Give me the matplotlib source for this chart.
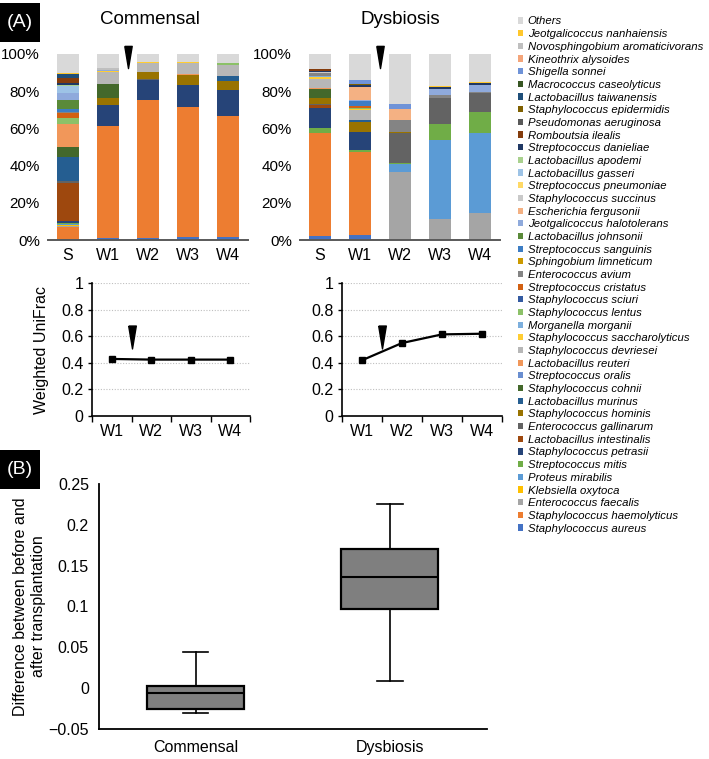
import matplotlib
matplotlib.use("Agg")
import matplotlib.pyplot as plt
import numpy as np
from matplotlib.patches import Patch, Rectangle

plt.rcParams['font.family'] = ['Liberation Sans', 'DejaVu Sans']

# ---------------- data ----------------
species = [
    "Staphylococcus aureus", "Staphylococcus haemolyticus", "Enterococcus faecalis",
    "Klebsiella oxytoca", "Proteus mirabilis", "Streptococcus mitis",
    "Staphylococcus petrasii", "Lactobacillus intestinalis", "Enterococcus gallinarum",
    "Staphylococcus hominis", "Lactobacillus murinus", "Staphylococcus cohnii",
    "Streptococcus oralis", "Lactobacillus reuteri", "Staphylococcus devriesei",
    "Staphylococcus saccharolyticus", "Morganella morganii", "Staphylococcus lentus",
    "Staphylococcus sciuri", "Streptococcus cristatus", "Enterococcus avium",
    "Sphingobium limneticum", "Streptococcus sanguinis", "Lactobacillus johnsonii",
    "Jeotgalicoccus halotolerans", "Escherichia fergusonii", "Staphylococcus succinus",
    "Streptococcus pneumoniae", "Lactobacillus gasseri", "Lactobacillus apodemi",
    "Streptococcus danieliae", "Romboutsia ilealis", "Pseudomonas aeruginosa",
    "Staphylococcus epidermidis", "Lactobacillus taiwanensis", "Macrococcus caseolyticus",
    "Shigella sonnei", "Kineothrix alysoides", "Novosphingobium aromaticivorans",
    "Jeotgalicoccus nanhaiensis", "Others",
]

species_colors = [
    "#4472C4", "#ED7D31", "#A5A5A5", "#FFC000", "#5B9BD5", "#70AD47",
    "#264478", "#9E480E", "#636363", "#997300", "#255E91", "#43682B",
    "#698ED0", "#F1975A", "#B7B7B7", "#FFCD33", "#7CAFDD", "#8CC168",
    "#335AA1", "#D26012", "#848484", "#CC9A00", "#3C7DC4", "#5A8A39",
    "#8FAADC", "#F4B183", "#C9C9C9", "#FFD966", "#9DC3E6", "#A9D18E",
    "#203864", "#843C0C", "#595959", "#7F6000", "#1F4E79", "#375623",
    "#6F93D8", "#F4A57A", "#BFBFBF", "#FFC72C", "#D9D9D9",
]

samples = ["S", "W1", "W2", "W3", "W4"]

# relative abundance (%) per sample, in the order of `species`
com_S = [0.3, 6.7, 0.5, 0.3, 1.0, 0.4, 0.8, 20.9, 0.9, 0.0,
         12.7, 5.4, 0.0, 12.6, 0.0, 0.0, 0.0, 3.0, 0.0, 2.7,
         0.5, 0.0, 1.7, 4.6, 4.0, 0.0, 0.0, 0.0, 3.6, 0.9,
         0.9, 2.7, 0.0, 0.0, 2.1, 0.0, 0.0, 0.0, 0.0, 0.5,
         10.3]
com_W1 = [1.0, 60.5, 0.0, 0.0, 0.0, 0.0, 11.0, 0.0, 0.0, 4.0,
          0.0, 7.5, 0.0, 0.0, 6.5, 0.5, 0.0, 0.0, 0.0, 0.0,
          0.0, 0.0, 0.0, 0.0, 0.5, 0.0, 0.0, 0.0, 0.0, 0.0,
          0.0, 0.0, 0.0, 0.0, 0.0, 0.0, 0.0, 0.0, 1.0, 0.0,
          7.5]
com_W2 = [1.0, 74.0, 0.0, 0.0, 0.0, 0.0, 11.2, 0.0, 0.4, 3.6,
          0.0, 0.0, 0.0, 0.0, 4.8, 0.5, 0.0, 0.0, 0.0, 0.0,
          0.0, 0.0, 0.0, 0.0, 0.0, 0.0, 0.0, 0.0, 0.0, 0.0,
          0.0, 0.0, 0.0, 0.0, 0.0, 0.0, 0.0, 0.0, 0.0, 0.0,
          4.5]
com_W3 = [1.5, 69.9, 0.0, 0.0, 0.0, 0.0, 12.1, 0.0, 0.0, 5.4,
          0.0, 0.0, 0.0, 0.6, 5.7, 0.5, 0.0, 0.0, 0.0, 0.0,
          0.0, 0.0, 0.0, 0.0, 0.0, 0.0, 0.0, 0.0, 0.0, 0.0,
          0.0, 0.0, 0.0, 0.0, 0.0, 0.0, 0.0, 0.0, 0.0, 0.0,
          4.3]
com_W4 = [1.5, 64.9, 0.0, 0.0, 0.0, 0.0, 14.0, 0.0, 0.0, 4.9,
          2.7, 0.0, 0.0, 0.4, 5.8, 0.0, 0.0, 1.2, 0.0, 0.0,
          0.0, 0.0, 0.0, 0.0, 0.0, 0.0, 0.0, 0.0, 0.0, 0.0,
          0.0, 0.0, 0.0, 0.0, 0.0, 0.0, 0.0, 0.0, 0.0, 0.0,
          4.6]

dys_S = [2.0, 55.7, 0.0, 0.0, 0.0, 2.3, 10.8, 1.8, 0.4, 3.4,
         0.0, 4.6, 0.0, 0.6, 4.8, 1.1, 0.6, 0.0, 0.0, 0.0,
         1.9, 0.0, 0.0, 0.0, 0.0, 0.0, 0.5, 0.0, 0.0, 0.0,
         0.6, 0.7, 0.0, 0.0, 0.0, 0.0, 0.0, 0.0, 0.0, 0.4,
         7.8]
dys_W1 = [2.5, 45.0, 0.0, 0.0, 0.0, 1.0, 9.7, 0.0, 0.0, 5.4,
          0.8, 0.0, 0.0, 0.0, 5.3, 0.8, 0.0, 0.5, 0.0, 1.0,
          0.0, 0.0, 2.8, 0.0, 0.5, 7.0, 0.0, 0.0, 0.0, 0.0,
          0.8, 0.0, 0.0, 0.7, 0.0, 0.0, 2.4, 0.0, 0.0, 0.0,
          13.8]
dys_W2 = [0.0, 0.0, 36.3, 0.0, 4.4, 0.9, 0.0, 0.0, 15.8, 0.5,
          0.0, 0.0, 0.0, 0.0, 0.0, 0.0, 0.0, 0.0, 0.0, 0.0,
          6.8, 0.0, 0.0, 0.0, 0.0, 5.8, 0.0, 0.0, 0.0, 0.0,
          0.0, 0.0, 0.0, 0.0, 0.0, 0.0, 2.6, 0.0, 0.0, 0.0,
          26.9]
dys_W3 = [0.0, 0.0, 11.5, 0.0, 42.5, 8.5, 0.0, 0.0, 14.0, 0.0,
          0.0, 0.0, 0.0, 0.0, 0.0, 0.0, 0.0, 0.0, 0.0, 0.0,
          1.5, 0.0, 0.0, 0.0, 3.0, 0.0, 0.0, 0.0, 0.0, 0.0,
          1.0, 0.0, 0.0, 0.0, 0.0, 0.0, 0.0, 0.0, 0.0, 0.8,
          17.2]
dys_W4 = [0.0, 0.0, 14.5, 0.0, 42.8, 11.7, 0.0, 0.0, 10.2, 0.0,
          0.0, 0.0, 0.0, 0.0, 0.0, 0.0, 0.0, 0.0, 0.0, 0.0,
          0.5, 0.0, 0.0, 0.0, 3.5, 0.0, 0.0, 0.0, 0.0, 0.0,
          1.0, 0.0, 0.0, 0.0, 0.0, 0.0, 0.0, 0.0, 0.0, 0.8,
          15.0]

weeks = ["W1", "W2", "W3", "W4"]
com_unifrac = [0.43, 0.425, 0.425, 0.425]
dys_unifrac = [0.42, 0.55, 0.615, 0.62]

box_groups = ["Commensal", "Dysbiosis"]
box_whislo = [-0.031, 0.009]
box_q1 = [-0.026, 0.097]
box_med = [-0.006, 0.136]
box_q3 = [0.003, 0.170]
box_whishi = [0.044, 0.226]

# ---------------- figure ----------------
W, H = 709, 759
fig = plt.figure(figsize=(W / 100, H / 100), dpi=100)


def ax_px(x0, y0, x1, y1):
    return fig.add_axes([x0 / W, 1 - y1 / H, (x1 - x0) / W, (y1 - y0) / H])


# arrow-head marker (tall narrow triangle pointing down)
arrow_marker = [(-0.5, 1.5), (0.5, 1.5), (0.0, -1.5), (-0.5, 1.5)]

# ---- stacked bars ----
bar_specs = [
    ((48, 54, 248, 240), [com_S, com_W1, com_W2, com_W3, com_W4], "Commensal", 150),
    ((300, 54, 500, 240), [dys_S, dys_W1, dys_W2, dys_W3, dys_W4], "Dysbiosis", 400),
]
for (box, data, title, tx) in bar_specs:
    ax = ax_px(*box)
    arr = np.array(data)
    x = np.arange(len(samples))
    bottom = np.zeros(len(samples))
    for j in range(len(species)):
        ax.bar(x, arr[:, j], bottom=bottom, width=0.56, color=species_colors[j],
               linewidth=0)
        bottom += arr[:, j]
    ax.set_xlim(-0.5, 4.5)
    ax.set_ylim(0, 100)
    ax.set_yticks(np.arange(0, 101, 20))
    ax.set_yticklabels([f"{v}%" for v in range(0, 101, 20)])
    ax.set_xticks(x)
    ax.set_xticklabels(samples)
    for s in ("left", "top", "right"):
        ax.spines[s].set_visible(False)
    ax.spines["bottom"].set_color("#595959")
    ax.spines["bottom"].set_linewidth(1.4)
    ax.tick_params(axis="x", length=0, labelsize=11.5, pad=5.5)
    ax.tick_params(axis="y", length=0, labelsize=10.9, pad=5.8)
    ax.plot([1.5], [98.3], marker=arrow_marker, ms=16, color="black",
            linestyle="none", clip_on=False)
    fig.text(tx / W, 1 - 19 / H, title, fontsize=13.5, ha="center", va="center")

# ---- weighted unifrac line charts ----
line_specs = [((92, 283.3, 250, 416), com_unifrac, True),
              ((342, 283.3, 502, 416), dys_unifrac, False)]
for (box, vals, ylab) in line_specs:
    ax = ax_px(*box)
    xi = np.arange(len(weeks))
    ax.plot(xi, vals, color="black", lw=1.6, marker="s", ms=4.5)
    ax.set_xlim(-0.5, 3.5)
    ax.set_ylim(0, 1)
    ax.set_xticks(np.arange(-0.5, 4.0, 1.0))
    ax.set_xticklabels([])
    ax.set_xticks(xi, minor=True)
    ax.set_xticklabels(weeks, minor=True)
    ax.tick_params(axis="x", which="major", direction="out", length=4, width=1)
    ax.tick_params(axis="x", which="minor", length=0, labelsize=11.5, pad=6)
    ax.set_yticks(np.arange(0, 1.01, 0.2))
    ax.set_yticklabels(["0", "0.2", "0.4", "0.6", "0.8", "1"])
    ax.tick_params(axis="y", direction="out", length=3, width=1, labelsize=11.5, pad=3)
    ax.yaxis.grid(True, linestyle=(0, (1, 1.5)), color="#BFBFBF", lw=0.8)
    ax.set_axisbelow(True)
    for s in ("top", "right"):
        ax.spines[s].set_visible(False)
    for s in ("left", "bottom"):
        ax.spines[s].set_linewidth(1.2)
    ax.plot([0.5], [0.598], marker=arrow_marker, ms=16.5, color="black",
            linestyle="none", clip_on=False)
    if ylab:
        ax.set_ylabel("Weighted UniFrac", fontsize=11.5, labelpad=9)

# ---- box plot ----
axb = ax_px(98.7, 484, 487, 729)
stats = [dict(whislo=box_whislo[i], q1=box_q1[i], med=box_med[i], q3=box_q3[i],
              whishi=box_whishi[i], label=box_groups[i]) for i in range(2)]
axb.bxp(stats, positions=[0, 1], widths=0.5, showfliers=False, patch_artist=True,
        boxprops=dict(facecolor="#7F7F7F", edgecolor="black", linewidth=1.6),
        medianprops=dict(color="black", linewidth=1.5),
        whiskerprops=dict(color="black", linewidth=1.2),
        capprops=dict(color="black", linewidth=1.2), capwidths=0.13)
axb.set_xlim(-0.5, 1.5)
axb.set_ylim(-0.05, 0.25)
yt = np.round(np.arange(-0.05, 0.2501, 0.05), 2)
axb.set_yticks(yt)
axb.set_yticklabels(["\u22120.05", "0", "0.05", "0.1", "0.15", "0.2", "0.25"])
axb.tick_params(axis="both", length=0, labelsize=11.5)
axb.tick_params(axis="y", pad=7)
axb.tick_params(axis="x", pad=8)
for s in ("top", "right"):
    axb.spines[s].set_visible(False)
for s in ("left", "bottom"):
    axb.spines[s].set_linewidth(1.3)
axb.set_ylabel("Difference between before and\nafter transplantation", fontsize=11.5,
               labelpad=2, linespacing=1.25)

# ---- panel labels ----
for (lbl, y0, y1) in [("(A)", 3, 42), ("(B)", 450, 489)]:
    fig.patches.append(Rectangle((0, 1 - y1 / H), 40 / W, (y1 - y0) / H,
                                 transform=fig.transFigure, facecolor="black",
                                 edgecolor="none"))
    fig.text(20 / W, 1 - ((y0 + y1) / 2) / H, lbl, color="white", fontsize=14,
             ha="center", va="center")

# ---- legend ----
handles = [Patch(facecolor=species_colors[j], edgecolor="none", label=species[j])
           for j in range(len(species))][::-1]
fig.legend(handles=handles, loc="upper left", bbox_to_anchor=(518 / W, 1 - 16.5 / H),
           frameon=False, prop=dict(size=8.2, style="italic"), handlelength=0.45,
           handleheight=0.45, handletextpad=0.4, labelspacing=0.235, borderpad=0,
           borderaxespad=0)

fig.savefig("out.png", dpi=100)
